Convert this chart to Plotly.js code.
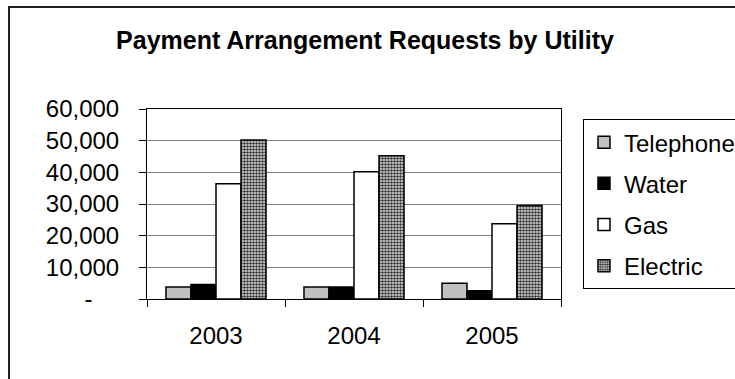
<!DOCTYPE html>
<html>
<head>
<meta charset="utf-8">
<script src="https://cdn.plot.ly/plotly-3.0.1.min.js"></script>
<style>
  html, body { margin: 0; padding: 0; background: #ffffff; }
  #frame {
    position: absolute; left: 8px; top: 6px; width: 800px; height: 420px;
    border-left: 2px solid #222; border-top: 2px solid #222;
  }
  #chart { position: absolute; left: 0; top: 0; width: 735px; height: 379px; }
  body { width: 735px; height: 379px; overflow: hidden; position: relative; }
</style>
</head>
<body>
<div id="frame"></div>
<div id="chart"></div>
<script>
// Requests per utility type, by year
const years = ['2003', '2004', '2005'];
const telephone = [3800, 3800, 5000];
const water = [4600, 3800, 2600];
const gas = [36400, 40200, 23800];
const electric = [50200, 45200, 29500];

const yTickVals = [0, 10000, 20000, 30000, 40000, 50000, 60000];
const yTickText = ['-\u00a0\u00a0\u00a0\u00a0', '10,000', '20,000', '30,000', '40,000', '50,000', '60,000'];

const outline = { color: '#000000', width: 1.5 };

function series(name, values, marker) {
  return {
    type: 'bar', name: name, x: years, y: values,
    legendgroup: name, hoverinfo: 'x+y+name',
    marker: Object.assign({ line: outline }, marker)
  };
}

const traces = [
  series('Telephone', telephone, { color: '#c0c0c0' }),
  series('Water', water, { color: '#000000' }),
  series('Gas', gas, { color: '#ffffff' }),
  series('Electric', electric, {
    color: '#ffffff',
    pattern: { shape: '.', fgcolor: '#333333', bgcolor: '#e8e8e8', size: 3, solidity: 0.55 }
  })
];

const layout = {
  width: 735, height: 379,
  paper_bgcolor: 'rgba(0,0,0,0)',
  plot_bgcolor: '#ffffff',
  margin: { l: 147, r: 174, t: 109, b: 80, autoexpand: false },
  font: { family: 'Arial, "Liberation Sans", sans-serif', size: 24, color: '#000000' },
  title: {
    text: '<b>Payment Arrangement Requests by Utility</b>',
    font: { size: 25, color: '#000000' },
    xref: 'container', x: 0.4966, xanchor: 'center',
    yref: 'container', y: 0.893, yanchor: 'middle'
  },
  barmode: 'group',
  bargap: 0.275,
  bargroupgap: 0,
  xaxis: {
    type: 'category',
    tickson: 'boundaries',
    ticks: 'outside', ticklen: 7, tickcolor: '#000000', tickwidth: 1,
    showline: true, linecolor: '#000000', linewidth: 1, mirror: true,
    showgrid: false, zeroline: false,
    ticklabelstandoff: 15,
    tickfont: { size: 24 }
  },
  yaxis: {
    range: [0, 60000],
    tickmode: 'array', tickvals: yTickVals, ticktext: yTickText,
    ticks: 'outside', ticklen: 7, tickcolor: '#000000', tickwidth: 1,
    showline: true, linecolor: '#000000', linewidth: 1, mirror: true,
    showgrid: true, gridcolor: '#808080', gridwidth: 1,
    zeroline: false,
    ticklabelstandoff: 15,
    tickfont: { size: 24 }
  },
  showlegend: true,
  legend: {
    x: 1.0531, xanchor: 'left', xref: 'paper',
    y: 0.947, yanchor: 'top', yref: 'paper',
    bordercolor: '#000000', borderwidth: 1, bgcolor: '#ffffff',
    font: { size: 24 },
    tracegroupgap: 7,
    itemwidth: 30
  }
};

Plotly.newPlot('chart', traces, layout, { staticPlot: true, displayModeBar: false });
</script>
</body>
</html>
